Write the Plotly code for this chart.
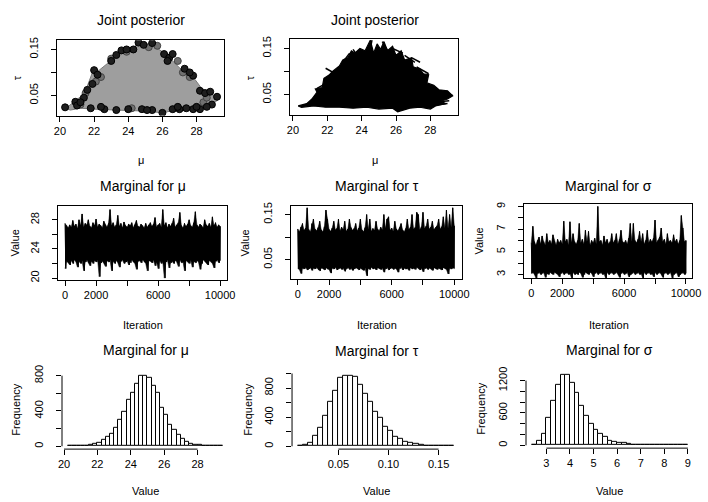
import plotly.graph_objects as go

W, H = 708, 502
FONT = "Liberation Sans, Arial, Helvetica, sans-serif"

# ---------------- joint posterior (mu, tau) ----------------
# outline of the sample cloud
cloud_mu = [20.35, 20.8, 21.3, 21.6, 21.9, 22.3, 22.8, 23.2, 23.6, 24.1, 24.5, 25.0, 25.4, 25.8,
            26.2, 26.6, 27.0, 27.5, 27.9, 28.3, 28.7, 29.2, 29.25, 28.8, 28.3, 27.5, 26.5, 26.0,
            25.0, 24.0, 23.0, 22.0, 21.2, 20.6]
cloud_tau = [0.022, 0.035, 0.05, 0.07, 0.10, 0.105, 0.12, 0.135, 0.145, 0.15, 0.16, 0.162, 0.16, 0.15,
             0.14, 0.125, 0.11, 0.095, 0.085, 0.065, 0.055, 0.047, 0.04, 0.028, 0.02, 0.018, 0.016, 0.012,
             0.016, 0.017, 0.018, 0.02, 0.022, 0.018]
# dark draws on the edge of the cloud
edge_mu = [20.3, 20.9, 21.0, 21.4, 21.6, 21.9, 22.0, 22.2, 23.3, 23.6, 24.3, 24.6, 24.9, 25.4,
           26.1, 26.4, 26.6, 27.3, 27.8, 28.2, 28.5, 28.8, 29.2, 28.9, 28.6, 28.2, 27.8, 27.4,
           27.0, 26.6, 26.0, 25.4, 24.8, 23.3, 22.6, 21.8, 23.0, 23.9, 26.3, 27.6, 28.0, 26.9,
           25.1, 21.2, 22.4, 24.0]
edge_tau = [0.024, 0.036, 0.028, 0.045, 0.062, 0.075, 0.105, 0.095, 0.138, 0.148, 0.15, 0.165, 0.16, 0.164,
            0.14, 0.132, 0.14, 0.108, 0.093, 0.06, 0.055, 0.058, 0.047, 0.03, 0.025, 0.02, 0.02, 0.022,
            0.02, 0.02, 0.012, 0.018, 0.02, 0.018, 0.02, 0.022, 0.125, 0.15, 0.125, 0.1, 0.025, 0.025,
            0.018, 0.035, 0.025, 0.02]
# lighter draws on the edge
grey_mu = [21.2, 22.4, 23.0, 23.9, 25.2, 25.7, 26.9, 27.6, 28.4, 24.2, 21.5, 22.1, 27.2, 28.6]
grey_tau = [0.03, 0.09, 0.13, 0.145, 0.155, 0.158, 0.125, 0.09, 0.035, 0.022, 0.055, 0.08, 0.1, 0.045]

# path of the chain in the (mu, tau) plane
path_mu = [20.3, 20.8, 21.1, 21.4, 21.3, 21.7, 21.8, 22.1, 22.3, 22.7, 22.9, 23.2, 23.4, 23.6, 23.9,
           24.2, 24.5, 24.7, 24.9, 25.1, 25.3, 25.5, 25.8, 26.0, 26.3, 26.5, 26.9, 27.0, 27.4, 27.6,
           27.9, 27.8, 28.2, 28.5, 29.0, 29.3, 29.0, 28.6, 28.9, 28.3, 28.0, 27.4, 26.8, 26.1, 25.8,
           25.0, 24.3, 23.5, 22.7, 21.9, 21.2, 20.5]
path_tau = [0.025, 0.03, 0.04, 0.055, 0.062, 0.065, 0.085, 0.092, 0.1, 0.112, 0.125, 0.13, 0.145, 0.14,
            0.15, 0.145, 0.168, 0.14, 0.16, 0.148, 0.165, 0.145, 0.155, 0.135, 0.145, 0.125, 0.13, 0.11,
            0.105, 0.095, 0.093, 0.075, 0.07, 0.06, 0.058, 0.047, 0.04, 0.035, 0.03, 0.025, 0.018, 0.022,
            0.02, 0.012, 0.02, 0.018, 0.022, 0.02, 0.022, 0.022, 0.025, 0.022]
stroke_mu = [21.9, 22.8, None, 26.9, 27.4, None, 28.0, 29.3, None, 28.2, 29.1, None, 28.3, 29.0, None,
             23.5, 24.0, None, 23.0, 23.3, None, 25.8, 26.4, None, 26.5, 27.1, None, 27.2, 27.9, None,
             28.3, 29.2, None, 21.4, 22.1, None, 24.4, 24.6, None, 25.2, 25.6]
stroke_tau = [0.107, 0.088, None, 0.13, 0.12, None, 0.045, 0.048, None, 0.033, 0.036, None, 0.027, 0.03, None,
              0.148, 0.12, None, 0.125, 0.14, None, 0.15, 0.14, None, 0.135, 0.12, None, 0.11, 0.095, None,
              0.06, 0.05, None, 0.063, 0.078, None, 0.13, 0.168, None, 0.165, 0.14]

# ---------------- chain traces (envelope of each 100-iteration block) ----------------
trace_iter = list(range(0, 10001, 100))
mu_hi = [27.5, 27.2, 26.9, 27.3, 27.0, 27.9, 27.1, 27.4, 26.8, 28.0,
         27.2, 28.8, 27.0, 27.5, 27.3, 28.0, 27.1, 26.9, 27.6, 27.2,
         28.1, 27.0, 27.4, 27.2, 26.9, 27.8, 27.3, 27.0, 27.5, 29.4,
         27.2, 27.6, 27.0, 27.3, 28.6, 27.1, 27.5, 26.9, 27.7, 27.2,
         27.0, 27.4, 27.2, 27.6, 26.9, 27.3, 27.9, 27.1, 27.0, 27.4,
         27.2, 26.9, 27.5, 27.0, 27.3, 27.6, 27.1, 27.4, 28.3, 27.0,
         27.3, 27.5, 27.0, 29.4, 27.2, 27.6, 26.9, 27.4, 27.1, 27.5,
         28.2, 27.0, 27.3, 27.6, 29.0, 27.2, 26.9, 27.5, 27.1, 27.4,
         28.0, 27.2, 27.0, 27.6, 29.1, 27.3, 27.0, 27.4, 27.2, 26.9,
         28.0, 27.3, 27.1, 27.5, 27.0, 28.4, 27.2, 27.6, 27.0, 27.3,
         27.1]
mu_lo = [21.3, 22.3, 22.1, 21.8, 22.4, 22.0, 22.5, 22.2, 21.5, 22.3,
         22.0, 22.4, 21.0, 22.2, 22.5, 22.1, 21.7, 22.3, 22.0, 22.4,
         22.2, 22.5, 20.2, 22.1, 22.3, 22.0, 21.6, 22.4, 22.2, 22.5,
         21.0, 22.3, 22.0, 22.4, 22.1, 21.5, 22.3, 22.5, 22.0, 22.2,
         22.4, 21.8, 22.1, 22.5, 22.2, 22.0, 21.2, 22.3, 22.4, 22.1,
         22.5, 22.2, 22.0, 21.0, 22.4, 22.3, 22.1, 22.5, 21.7, 22.2,
         21.3, 22.4, 22.0, 22.3, 20.0, 22.2, 22.5, 21.4, 22.1, 22.3,
         22.0, 22.4, 22.2, 21.6, 22.5, 22.1, 22.3, 21.0, 22.4, 22.2,
         22.0, 22.5, 21.5, 22.3, 22.1, 22.4, 22.2, 21.2, 22.0, 22.5,
         22.3, 22.1, 21.8, 22.4, 22.2, 22.0, 21.4, 22.3, 22.5, 22.1,
         22.4]
tau_hi = [0.118, 0.112, 0.122, 0.130, 0.115, 0.120, 0.165, 0.117, 0.112, 0.130,
          0.140, 0.118, 0.114, 0.121, 0.135, 0.116, 0.112, 0.123, 0.160, 0.140,
          0.117, 0.113, 0.120, 0.135, 0.116, 0.119, 0.140, 0.114, 0.122, 0.117,
          0.135, 0.113, 0.118, 0.140, 0.121, 0.115, 0.119, 0.130, 0.114, 0.120,
          0.140, 0.116, 0.112, 0.121, 0.150, 0.117, 0.140, 0.113, 0.119, 0.115,
          0.135, 0.118, 0.114, 0.122, 0.116, 0.150, 0.119, 0.140, 0.145, 0.115,
          0.120, 0.113, 0.135, 0.118, 0.114, 0.121, 0.130, 0.116, 0.112, 0.119,
          0.140, 0.117, 0.122, 0.150, 0.118, 0.121, 0.155, 0.150, 0.116, 0.123,
          0.155, 0.119, 0.124, 0.140, 0.118, 0.122, 0.135, 0.117, 0.121, 0.125,
          0.140, 0.118, 0.123, 0.145, 0.120, 0.160, 0.119, 0.150, 0.122, 0.165,
          0.125]
tau_lo = [0.030, 0.028, 0.019, 0.031, 0.029, 0.033, 0.027, 0.030, 0.032, 0.026,
          0.031, 0.029, 0.033, 0.028, 0.025, 0.031, 0.030, 0.027, 0.032, 0.029,
          0.028, 0.020, 0.031, 0.029, 0.033, 0.027, 0.030, 0.032, 0.028, 0.031,
          0.024, 0.030, 0.033, 0.028, 0.031, 0.026, 0.029, 0.032, 0.030, 0.027,
          0.031, 0.029, 0.026, 0.032, 0.014, 0.030, 0.028, 0.033, 0.029, 0.031,
          0.027, 0.032, 0.030, 0.028, 0.031, 0.022, 0.029, 0.033, 0.027, 0.030,
          0.032, 0.028, 0.031, 0.029, 0.022, 0.030, 0.033, 0.027, 0.031, 0.029,
          0.030, 0.026, 0.032, 0.029, 0.031, 0.028, 0.033, 0.030, 0.027, 0.031,
          0.023, 0.030, 0.032, 0.028, 0.031, 0.029, 0.026, 0.032, 0.030, 0.028,
          0.031, 0.029, 0.027, 0.032, 0.030, 0.028, 0.018, 0.031, 0.029, 0.032,
          0.030]
sig_hi = [5.8, 7.25, 5.9, 5.6, 6.0, 6.3, 5.7, 6.4, 5.9, 5.6,
          6.6, 5.8, 6.0, 5.7, 6.5, 5.9, 5.6, 6.1, 5.8, 6.0,
          5.7, 7.7, 5.9, 6.1, 5.6, 7.65, 5.8, 6.6, 5.9, 5.7,
          6.0, 7.5, 5.8, 6.1, 5.7, 6.9, 5.9, 6.8, 5.6, 6.0,
          5.8, 6.2, 5.7, 9.0, 5.9, 6.0, 5.6, 6.4, 5.8, 6.1,
          5.7, 5.9, 6.6, 5.8, 6.0, 6.6, 5.7, 6.1, 6.9, 5.9,
          5.8, 6.0, 5.7, 6.2, 7.5, 5.9, 7.5, 6.0, 5.8, 6.1,
          6.8, 5.9, 6.6, 5.7, 6.0, 6.9, 5.8, 6.1, 5.9, 6.2,
          7.8, 5.8, 6.0, 6.3, 7.1, 5.9, 6.1, 5.7, 6.6, 5.9,
          6.0, 5.8, 6.5, 5.9, 6.1, 5.7, 6.0, 8.2, 7.1, 5.9,
          6.0]
sig_lo = [3.1, 3.2, 3.0, 2.7, 3.1, 3.2, 3.0, 3.1, 3.2, 2.75,
          3.1, 3.0, 3.2, 3.1, 3.0, 3.2, 3.1, 3.0, 2.8, 3.1,
          3.2, 3.0, 3.1, 3.2, 3.0, 3.1, 2.7, 3.2, 3.0, 3.1,
          3.0, 3.2, 3.1, 2.75, 3.0, 3.2, 3.1, 3.0, 3.2, 3.1,
          2.8, 3.1, 3.2, 3.0, 3.1, 3.2, 3.0, 3.1, 2.7, 3.2,
          3.0, 3.1, 3.2, 3.0, 3.1, 3.2, 3.0, 2.75, 3.1, 3.2,
          3.0, 3.1, 3.2, 2.8, 3.0, 3.1, 3.2, 3.0, 3.1, 3.2,
          3.0, 3.1, 2.7, 3.2, 3.0, 3.1, 3.2, 3.0, 3.1, 2.8,
          3.2, 3.0, 3.1, 3.2, 3.0, 2.75, 3.1, 3.2, 3.0, 3.1,
          3.2, 2.7, 3.0, 3.1, 3.2, 2.8, 3.0, 3.1, 3.2, 3.0,
          3.1]

# ---------------- histograms ----------------
mu_bin_start, mu_bin_width = 20.25, 0.25
mu_counts = [1, 1, 2, 4, 7, 12, 25, 42, 68, 106, 144, 205, 300, 390, 523, 600, 713, 800, 800,
             770, 686, 600, 436, 352, 240, 182, 125, 87, 50, 30, 19, 11, 6, 4, 2, 1, 1]
tau_bin_start, tau_bin_width = 0.010, 0.005
tau_counts = [3, 14, 45, 145, 256, 419, 605, 767, 935, 967, 970, 955, 845, 720, 610, 480,
              386, 262, 210, 132, 107, 62, 42, 28, 19, 12, 8, 5, 3, 2, 1]
sig_bin_start, sig_bin_width = 2.4, 0.2
sig_counts = [12, 80, 215, 510, 830, 1125, 1310, 1310, 1150, 965, 740, 555, 400, 290, 215, 155,
              92, 68, 50, 37, 25, 15, 10, 7, 5, 4, 3, 2, 2, 1, 1, 1, 1]


def dom(x0, x1, y0, y1):
    """pixel box -> paper domains"""
    return [x0 / W, x1 / W], [1 - y1 / H, 1 - y0 / H]


def zigzag(iters, hi, lo):
    xs, ys = [], []
    for it, h, l in zip(iters, hi, lo):
        xs += [it, min(it + 50, 10000)]
        ys += [h, l]
    return xs, ys


def hist_bars(start, width, counts):
    return [start + width * (i + 0.5) for i in range(len(counts))]


fig = go.Figure()

# panel 1: joint posterior as points
fig.add_trace(go.Scatter(x=cloud_mu + [cloud_mu[0]], y=cloud_tau + [cloud_tau[0]], mode="lines",
                         fill="toself", fillcolor="#9e9e9e", line=dict(color="#7a7a7a", width=1),
                         xaxis="x", yaxis="y", hoverinfo="skip"))
fig.add_trace(go.Scatter(x=grey_mu, y=grey_tau, mode="markers",
                         marker=dict(size=7, color="#707070", line=dict(color="#444", width=1)),
                         xaxis="x", yaxis="y"))
fig.add_trace(go.Scatter(x=edge_mu, y=edge_tau, mode="markers",
                         marker=dict(size=7, color="#1e1e1e", line=dict(color="#000", width=1)),
                         xaxis="x", yaxis="y"))

# panel 2: joint posterior as a path
fig.add_trace(go.Scatter(x=path_mu + [path_mu[0]], y=path_tau + [path_tau[0]], mode="lines",
                         fill="toself", fillcolor="#000", line=dict(color="#000", width=1.2),
                         xaxis="x2", yaxis="y2"))
fig.add_trace(go.Scatter(x=stroke_mu, y=stroke_tau, mode="lines", line=dict(color="#000", width=1.5),
                         xaxis="x2", yaxis="y2"))

# panels 3-5: chain traces (solid band between block extremes plus the zigzag path)
for hi, lo, ax in [(mu_hi, mu_lo, "3"), (tau_hi, tau_lo, "4"), (sig_hi, sig_lo, "5")]:
    fig.add_trace(go.Scatter(x=trace_iter, y=lo, mode="lines", line=dict(color="#000", width=0.5),
                             xaxis="x" + ax, yaxis="y" + ax))
    fig.add_trace(go.Scatter(x=trace_iter, y=hi, mode="lines", line=dict(color="#000", width=0.5),
                             fill="tonexty", fillcolor="#000", xaxis="x" + ax, yaxis="y" + ax))
    xs, ys = zigzag(trace_iter, hi, lo)
    fig.add_trace(go.Scatter(x=xs, y=ys, mode="lines", line=dict(color="#000", width=1),
                             xaxis="x" + ax, yaxis="y" + ax))

# panels 6-8: histograms
for start, width, counts, ax in [(mu_bin_start, mu_bin_width, mu_counts, "6"),
                                 (tau_bin_start, tau_bin_width, tau_counts, "7"),
                                 (sig_bin_start, sig_bin_width, sig_counts, "8")]:
    fig.add_trace(go.Bar(x=hist_bars(start, width, counts), y=counts, width=width,
                         marker=dict(color="white", line=dict(color="#000", width=1)),
                         xaxis="x" + ax, yaxis="y" + ax))


def hist_range(start, width, counts):
    lo, hi = start, start + width * len(counts)
    ext = 0.04 * (hi - lo)
    m = max(counts)
    return [lo - ext, hi + ext], [-0.04 * m, 1.04 * m]


mu_xr, mu_yr = hist_range(mu_bin_start, mu_bin_width, mu_counts)
tau_xr, tau_yr = hist_range(tau_bin_start, tau_bin_width, tau_counts)
sig_xr, sig_yr = hist_range(sig_bin_start, sig_bin_width, sig_counts)

tickfont = dict(family=FONT, size=11, color="#000")

def xax(domain, rng, vals, text, anchor, box=True):
    return dict(domain=domain, range=rng, tickvals=vals, ticktext=text, anchor=anchor,
                showgrid=False, zeroline=False, showline=box, mirror=box, linecolor="#000",
                linewidth=1, ticks="outside", ticklen=5, tickcolor="#000", tickfont=tickfont,
                ticklabelstandoff=0, fixedrange=True)

def yax(domain, rng, vals, text, anchor, box=True):
    return dict(domain=domain, range=rng, tickvals=vals, ticktext=text, anchor=anchor,
                showgrid=False, zeroline=False, showline=box, mirror=box, linecolor="#000",
                linewidth=1, ticks="outside", ticklen=5, tickcolor="#000", tickfont=tickfont,
                tickangle=-90, ticklabelstandoff=9, fixedrange=True)

panels = {
    "1": dom(54, 224, 33, 110),
    "2": dom(291, 462, 32, 109),
    "3": dom(55, 227, 202, 278),
    "4": dom(292, 466, 202, 277),
    "5": dom(529, 700, 200, 276),
    "6": dom(59, 228.6, 373, 451),
    "7": dom(293, 463.7, 373, 451),
    "8": dom(531, 702, 372, 450),
}

mu_ticks = [20, 22, 24, 26, 28]
it_ticks = [0, 2000, 4000, 6000, 8000, 10000]
it_text = ["0", "2000", "", "6000", "", "10000"]
joint_xr, joint_yr = [19.83, 29.62], [0.006, 0.170]

lay = {}
lay["xaxis"] = xax(panels["1"][0], joint_xr, mu_ticks, [str(v) for v in mu_ticks], "y")
lay["yaxis"] = yax(panels["1"][1], joint_yr, [0.05, 0.10, 0.15], ["0.05", "", "0.15"], "x")
lay["xaxis2"] = xax(panels["2"][0], joint_xr, mu_ticks, [str(v) for v in mu_ticks], "y2")
lay["yaxis2"] = yax(panels["2"][1], joint_yr, [0.05, 0.10, 0.15], ["0.05", "", "0.15"], "x2")
lay["xaxis3"] = xax(panels["3"][0], [-450, 10450], it_ticks, it_text, "y3")
lay["yaxis3"] = yax(panels["3"][1], [19.75, 29.95], mu_ticks, ["20", "", "24", "", "28"], "x3")
lay["xaxis4"] = xax(panels["4"][0], [-430, 10500], it_ticks, it_text, "y4")
lay["yaxis4"] = yax(panels["4"][1], [0.007, 0.170], [0.05, 0.10, 0.15], ["0.05", "", "0.15"], "x4")
lay["xaxis5"] = xax(panels["5"][0], [-470, 10400], it_ticks, it_text, "y5")
lay["yaxis5"] = yax(panels["5"][1], [2.7, 9.25], [3, 4, 5, 6, 7, 8, 9], ["3", "", "5", "", "7", "", "9"], "x5")
lay["xaxis6"] = xax(panels["6"][0], mu_xr, mu_ticks, [str(v) for v in mu_ticks], "y6", box=False)
lay["yaxis6"] = yax(panels["6"][1], mu_yr, [0, 200, 400, 600, 800], ["0", "", "400", "", "800"], "x6", box=False)
lay["xaxis7"] = xax(panels["7"][0], tau_xr, [0.05, 0.10, 0.15], ["0.05", "0.10", "0.15"], "y7", box=False)
lay["yaxis7"] = yax(panels["7"][1], tau_yr, [0, 200, 400, 600, 800, 1000], ["0", "", "400", "", "800", ""], "x7", box=False)
lay["xaxis8"] = xax(panels["8"][0], sig_xr, [3, 4, 5, 6, 7, 8, 9], ["3", "4", "5", "6", "7", "8", "9"], "y8", box=False)
lay["yaxis8"] = yax(panels["8"][1], sig_yr, [0, 200, 400, 600, 800, 1000, 1200],
                    ["0", "", "", "600", "", "", "1200"], "x8", box=False)

# axis lines of the histograms run from first to last tick only
shapes = []
for ax, xt, yt in [("6", mu_ticks, [0, 800]), ("7", [0.05, 0.15], [0, 1000]), ("8", [3, 9], [0, 1200])]:
    shapes.append(dict(type="line", xref="x" + ax, yref="y" + ax + " domain", x0=xt[0], x1=xt[-1],
                       y0=0, y1=0, line=dict(color="#000", width=1)))
    shapes.append(dict(type="line", xref="x" + ax + " domain", yref="y" + ax, x0=0, x1=0,
                       y0=yt[0], y1=yt[-1], line=dict(color="#000", width=1)))

annots = []
def text(s, px, py, size, angle=0):
    annots.append(dict(text=s, x=px / W, y=1 - py / H, xref="paper", yref="paper", showarrow=False,
                       xanchor="center", yanchor="middle", textangle=angle,
                       font=dict(family=FONT, size=size, color="#000")))

text("Joint posterior", 139, 12, 14)
text("Joint posterior", 377, 12, 14)
text("Marginal for μ", 141, 181.5, 14)
text("Marginal for τ", 379, 181.5, 14)
text("Marginal for σ", 615, 181.5, 14)
text("Marginal for μ", 144, 350, 14)
text("Marginal for τ", 379, 350.5, 14)
text("Marginal for σ", 616, 350, 14)
text("μ", 139, 155, 11)
text("μ", 377, 155, 11)
text("τ", 14, 71, 11, -90)
text("τ", 251, 71, 11, -90)
for cx in (141, 379, 615):
    text("Iteration", cx, 324, 11)
for cx in (144, 379, 616):
    text("Value", cx, 494, 11)
text("Value", 11, 240, 11, -90)
text("Value", 245, 240, 11, -90)
text("Value", 483, 238, 11, -90)
text("Frequency", 12, 411, 11, -90)
text("Frequency", 248, 411, 11, -90)
text("Frequency", 485, 410, 11, -90)

fig.update_layout(width=W, height=H, margin=dict(l=0, r=0, t=0, b=0),
                  paper_bgcolor="white", plot_bgcolor="rgba(0,0,0,0)", showlegend=False,
                  bargap=0, shapes=shapes, annotations=annots, **lay)

fig.write_html("out.html")
